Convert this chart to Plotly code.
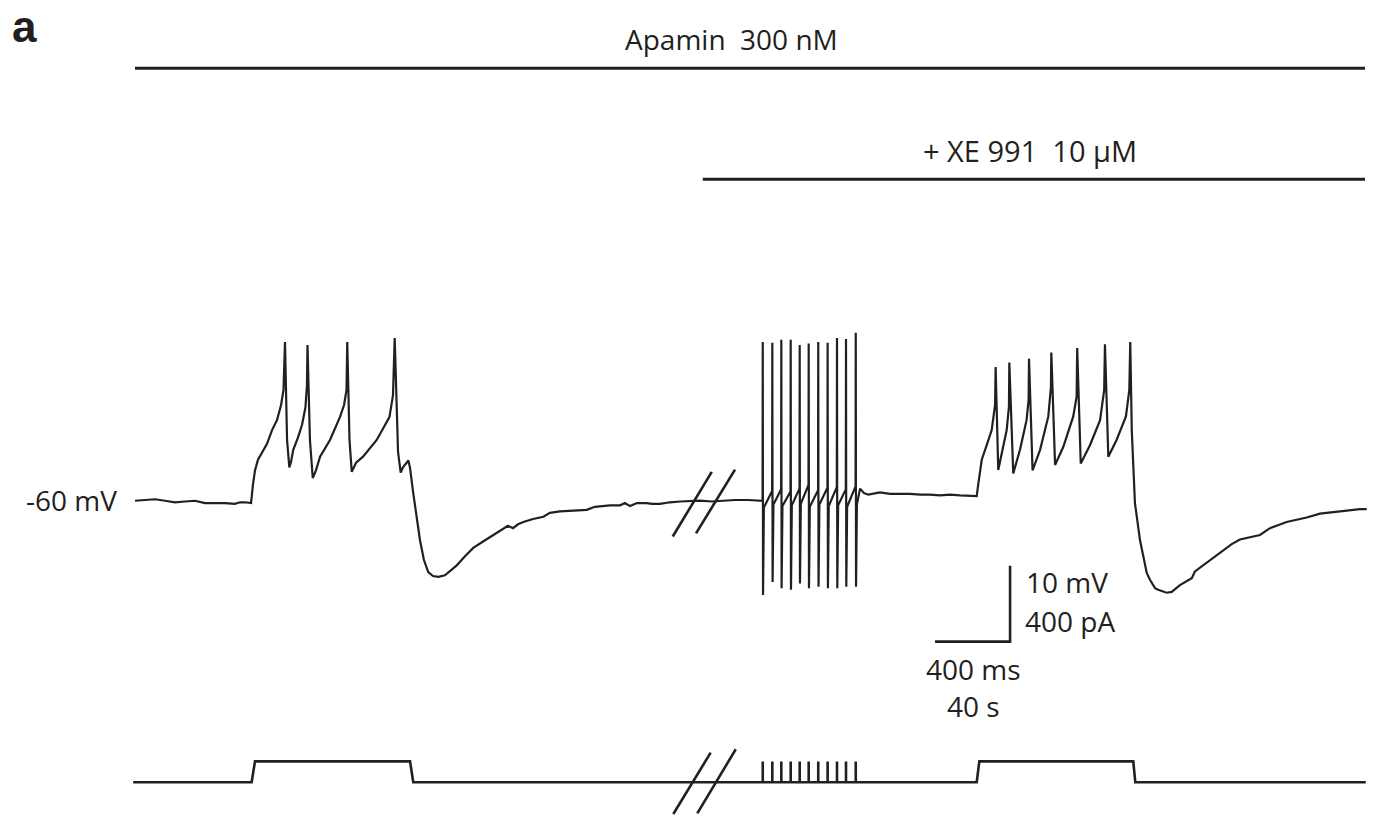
import plotly.graph_objects as go

# ---------------- data ----------------
# Membrane potential, first step (Apamin only) -- time in ms, voltage in mV
v1_time = [0, 53, 107, 160, 213, 267, 320, 373, 427, 480, 533, 560, 587, 619, 629, 640, 656, 677, 704, 731,
           757, 779, 792, 800, 811, 823, 832, 844, 869, 891, 909, 917, 920, 933, 948, 965, 987, 1040, 1093, 1115,
           1128, 1132, 1144, 1156, 1179, 1216, 1289, 1357, 1376, 1385, 1403, 1417, 1429, 1458, 1467, 1484, 1499,
           1520, 1541, 1564, 1589, 1618, 1653, 1716, 1760, 1804, 1867, 1929, 1963, 1989, 2016, 2043, 2071, 2123,
           2178, 2213, 2267, 2347, 2409, 2453, 2480, 2533, 2587, 2613, 2640, 2677, 2729, 2757, 2800, 2853, 2907,
           2976, 3013, 3077, 3120, 3200, 3269, 3333]
v1_mv = [-60.1, -60.0, -59.9, -60.1, -60.3, -60.2, -60.1, -60.4, -60.4, -60.4, -60.5, -60.3, -60.3, -60.4, -58.0,
         -56.1, -54.7, -53.7, -52.6, -50.8, -49.5, -47.5, -45.5, -39.2, -52.1, -55.7, -55.0, -53.4, -51.8, -50.1,
         -47.8, -44.9, -39.6, -52.1, -57.1, -56.1, -54.3, -52.1, -49.1, -47.5, -45.5, -39.2, -52.1, -56.3, -55.1,
         -54.3, -52.1, -49.1, -46.2, -38.7, -53.7, -56.4, -55.7, -54.8, -55.8, -59.1, -62.0, -65.3, -67.9, -69.5,
         -70.0, -70.1, -69.9, -68.6, -67.4, -66.3, -65.3, -64.3, -63.8, -63.4, -63.7, -63.2, -62.9, -62.5, -62.2,
         -61.7, -61.5, -61.4, -61.3, -60.9, -60.8, -60.7, -60.7, -60.4, -60.8, -60.4, -60.4, -60.5, -60.5, -60.3,
         -60.2, -60.1, -60.07, -60.2, -60.1, -60.0, -60.0, -60.1]

# Repetitive stimulation train (+ XE 991)
train_time = [3348, 3399, 3447, 3497, 3545, 3593, 3644, 3694, 3744, 3792, 3844]
train_peak_mv = [-39.2, -39.3, -38.9, -38.9, -39.6, -39.4, -39.2, -39.3, -38.7, -38.8, -38.0]
train_trough_mv = [-72.5, -70.8, -71.6, -71.8, -71.0, -71.6, -71.4, -71.6, -71.6, -71.4, -71.4]
train_pre_mv = [-60.1, -58.8, -58.6, -58.9, -58.5, -58.0, -58.7, -58.4, -58.3, -58.6, -58.2]
train_post_mv = [-61.0, -60.6, -60.8, -60.7, -60.5, -60.9, -60.6, -60.8, -60.7, -60.9, -60.6]

# Second step (Apamin + XE 991)
v3_time = [3867, 3888, 3911, 3973, 4027, 4080, 4133, 4187, 4240, 4293, 4347, 4400, 4453, 4489, 4498, 4516, 4542,
           4569, 4587, 4590, 4604, 4622, 4649, 4661, 4663, 4684, 4720, 4755, 4766, 4768, 4787, 4827, 4871, 4885,
           4887, 4907, 4951, 5004, 5022, 5025, 5044, 5093, 5147, 5169, 5173, 5191, 5235, 5285, 5303, 5308, 5316,
           5333, 5360, 5396, 5413, 5440, 5457, 5502, 5529, 5573, 5636, 5653, 5733, 5849, 5893, 6000, 6053, 6142,
           6249, 6320, 6427, 6533, 6569]
v3_mv = [-58.5, -59.1, -59.3, -59.0, -59.2, -59.2, -59.2, -59.3, -59.3, -59.4, -59.3, -59.4, -59.5, -59.5, -57.8,
         -54.7, -52.8, -50.8, -47.5, -42.5, -56.05, -53.9, -50.8, -47.7, -41.9, -56.5, -53.4, -49.5, -46.8, -41.4,
         -56.1, -53.4, -49.0, -45.1, -40.6, -55.4, -53.0, -49.0, -46.4, -40.0, -55.2, -52.8, -49.5, -45.5, -39.5,
         -54.3, -52.1, -49.0, -45.5, -39.2, -50.8, -60.4, -65.3, -69.6, -70.5, -71.6, -71.8, -72.2, -72.1, -71.2,
         -70.3, -69.4, -67.9, -65.8, -65.2, -64.6, -63.7, -62.9, -62.3, -61.8, -61.5, -61.2, -61.2]

# Injected current (pA)
step_on_time = [622, 4489]
step_on_top = [640, 4503]
step_off_time = [1467, 5324]
step_off_bottom = [1484, 5335]
step_pa = 110
pulse_pa = 110
current_start, current_end = -10, 6564

# Drug application bars (ms)
apamin_span = [0, 6560]
xe991_span = [3028, 6560]

# Scale bar
scale_ms = 400
scale_mv = 10
scale_corner = (4667, -78.64)

# Axis windows
x_range = [-720, 6613.3]
v_range = [-101.58, 5.79]
i_range = [-177.4, 4117.4]

INK = "#231f20"
FONT = "Open Sans"

# ---------------- build traces ----------------
v_t = list(v1_time)
v_v = list(v1_mv)
for t, pre, pk, tr, post in zip(train_time, train_pre_mv, train_peak_mv, train_trough_mv, train_post_mv):
    v_t += [t - 1, t, t + 1.5, t + 6]
    v_v += [pre, pk, tr, post]
v_t += v3_time
v_v += v3_mv

i_t = [current_start]
i_v = [0]
i_t += [step_on_time[0], step_on_top[0], step_off_time[0], step_off_bottom[0]]
i_v += [0, step_pa, step_pa, 0]
for t in train_time:
    i_t += [t, t, t]
    i_v += [0, pulse_pa, 0]
i_t += [step_on_time[1], step_on_top[1], step_off_time[1], step_off_bottom[1], current_end]
i_v += [0, step_pa, step_pa, 0, 0]

fig = go.Figure()
fig.add_trace(go.Scatter(x=v_t, y=v_v, mode="lines", line=dict(color=INK, width=2.2), hoverinfo="skip"))
fig.add_trace(go.Scatter(x=i_t, y=i_v, mode="lines", line=dict(color=INK, width=2.6), yaxis="y2",
                         hoverinfo="skip"))
cx, cy = scale_corner
fig.add_trace(go.Scatter(x=[cx - scale_ms, cx, cx], y=[cy, cy, cy + scale_mv], mode="lines",
                         line=dict(color=INK, width=2.6), hoverinfo="skip"))

shapes = []
shapes.append(dict(type="line", xref="x", yref="paper", x0=apamin_span[0], x1=apamin_span[1],
                   y0=1 - 68.3 / 816, y1=1 - 68.3 / 816, line=dict(color=INK, width=3)))
shapes.append(dict(type="line", xref="x", yref="paper", x0=xe991_span[0], x1=xe991_span[1],
                   y0=1 - 179.3 / 816, y1=1 - 179.3 / 816, line=dict(color=INK, width=3)))
for (x0, y0, x1, y1) in [(2868, -64.8, 3076, -56.3), (2992, -64.4, 3200, -56.0)]:
    shapes.append(dict(type="line", xref="x", yref="y", x0=x0, y0=y0, x1=x1, y1=y1,
                       line=dict(color=INK, width=2.6)))
for (x0, y0, x1, y1) in [(2871, -166.8, 3070, 155.8), (2999, -163.2, 3204, 173.7)]:
    shapes.append(dict(type="line", xref="x", yref="y2", x0=x0, y0=y0, x1=x1, y1=y1,
                       line=dict(color=INK, width=2.6)))


def ann(text, x_px, y_px, xanchor="left", size=28, family=FONT, bold=False):
    return dict(text=f"<b>{text}</b>" if bold else text, x=x_px / 1375, y=1 - y_px / 816,
                xref="paper", yref="paper", xanchor=xanchor, yanchor="middle", showarrow=False,
                font=dict(family=family, size=size, color=INK))


annotations = [
    ann("a", 10, 26, size=44, family="Liberation Sans", bold=True),
    ann("Apamin\u00a0 300 nM", 623, 39),
    ann("+ XE 991\u00a0 10 µM", 921, 150.5, size=29),
    ann("-60 mV", 119, 500, xanchor="right"),
    ann("10 mV", 1024, 582.4),
    ann("400 pA", 1023, 620.8),
    ann("400 ms", 973.3, 669, xanchor="center"),
    ann("40 s", 973.7, 706.3, xanchor="center"),
]

fig.update_layout(
    width=1375, height=816, autosize=False,
    margin=dict(l=0, r=0, t=0, b=0),
    paper_bgcolor="white", plot_bgcolor="white",
    showlegend=False,
    xaxis=dict(range=x_range, visible=False, fixedrange=True),
    yaxis=dict(range=v_range, visible=False, fixedrange=True),
    yaxis2=dict(range=i_range, visible=False, overlaying="y", fixedrange=True),
    shapes=shapes,
    annotations=annotations,
)

fig.write_html("out.html", config={"displayModeBar": False},
               post_script="document.body.style.margin='0';document.body.style.padding='0';"
                           "document.body.style.overflow='hidden';")
